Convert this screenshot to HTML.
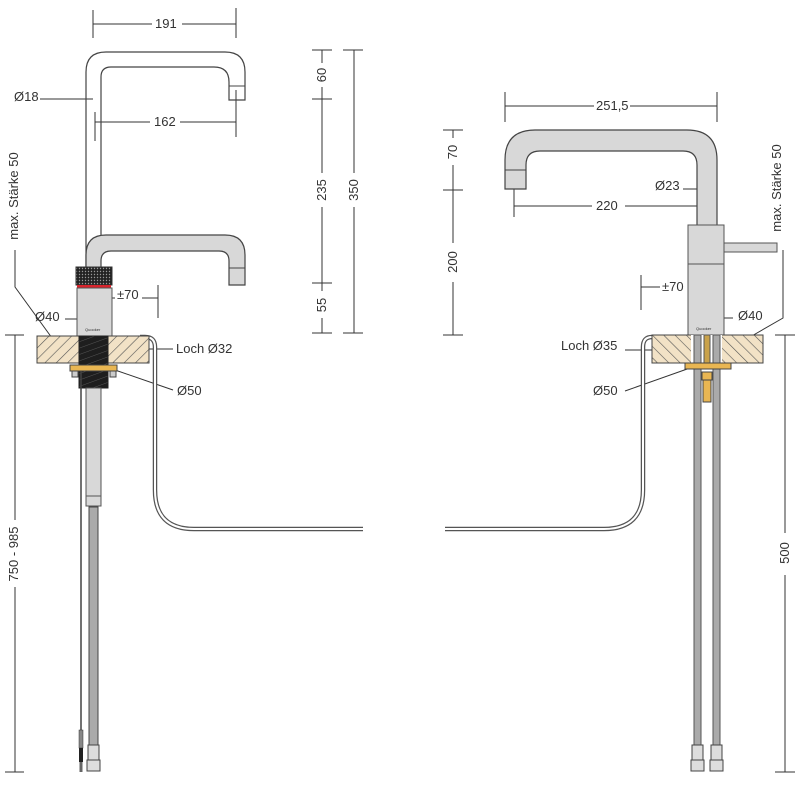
<!DOCTYPE html>
<html><head><meta charset="utf-8"><style>
html,body{margin:0;padding:0;background:#fff;}
svg{display:block;}
text{font-family:"Liberation Sans",sans-serif;font-size:13px;fill:#333;}
</style></head><body>
<svg width="800" height="791" viewBox="0 0 800 791" xmlns="http://www.w3.org/2000/svg">
<defs>
<pattern id="hl" width="8" height="8" patternUnits="userSpaceOnUse" patternTransform="rotate(45)">
<rect width="8" height="8" fill="#f2e2c6"/><line x1="0" y1="0" x2="0" y2="8" stroke="#555" stroke-width="1.2"/></pattern>
<pattern id="hr" width="8" height="8" patternUnits="userSpaceOnUse" patternTransform="rotate(-45)">
<rect width="8" height="8" fill="#f2e2c6"/><line x1="0" y1="0" x2="0" y2="8" stroke="#555" stroke-width="1.2"/></pattern>
<pattern id="knurl" width="3" height="3" patternUnits="userSpaceOnUse">
<rect width="3" height="3" fill="#222"/><circle cx="1.5" cy="1.5" r="0.7" fill="#999"/></pattern>
<pattern id="thr" width="6" height="6" patternUnits="userSpaceOnUse" patternTransform="rotate(-20)">
<rect width="6" height="6" fill="#1e1e1e"/><line x1="0" y1="0" x2="6" y2="0" stroke="#555" stroke-width="1"/></pattern>
</defs>
<g stroke="#333" stroke-width="1" fill="none">
<line x1="93" y1="24" x2="152" y2="24"/><line x1="182" y1="24" x2="236" y2="24"/>
<line x1="93" y1="10" x2="93" y2="38"/><line x1="236" y1="8" x2="236" y2="38"/>
<line x1="40" y1="99" x2="93" y2="99"/>
<line x1="95" y1="122" x2="150" y2="122"/><line x1="180" y1="122" x2="236" y2="122"/>
<line x1="95" y1="112" x2="95" y2="141"/><line x1="236" y1="90" x2="236" y2="137"/>
<line x1="322" y1="50" x2="322" y2="63"/><line x1="322" y1="87" x2="322" y2="173"/><line x1="322" y1="207" x2="322" y2="291"/><line x1="322" y1="318" x2="322" y2="333"/>
<line x1="312" y1="50" x2="332" y2="50"/><line x1="312" y1="99" x2="332" y2="99"/><line x1="312" y1="283" x2="332" y2="283"/><line x1="312" y1="333" x2="332" y2="333"/>
<line x1="354" y1="50" x2="354" y2="173"/><line x1="354" y1="207" x2="354" y2="333"/>
<line x1="343" y1="50" x2="363" y2="50"/><line x1="343" y1="333" x2="363" y2="333"/>
<line x1="93" y1="290" x2="93" y2="318"/><line x1="93" y1="298" x2="115" y2="298"/><line x1="142" y1="298" x2="158" y2="298"/><line x1="158" y1="285" x2="158" y2="318"/>
<line x1="65" y1="319" x2="90" y2="319"/>
<polyline points="15,250 15,287 52,338"/>
<line x1="15" y1="335" x2="15" y2="520"/><line x1="15" y1="587" x2="15" y2="772"/>
<line x1="5" y1="335" x2="24" y2="335"/><line x1="5" y1="772" x2="24" y2="772"/>
<line x1="108" y1="349" x2="173" y2="349"/>
<line x1="115" y1="370" x2="173" y2="390"/>
</g>
<path d="M140,337 L145,337 Q155,337 155,347 L155,490 Q155,529 194,529 L363,529" fill="none" stroke="#555" stroke-width="4.5"/>
<path d="M140,337 L145,337 Q155,337 155,347 L155,490 Q155,529 194,529 L363,529" fill="none" stroke="#fff" stroke-width="2"/>
<path d="M86,268 L86,72 Q86,52 106,52 L225,52 Q245,52 245,72 L245,100 L229,100 L229,82 Q229,67 214,67 L111,67 Q101,67 101,77 L101,251" fill="none" stroke="#444" stroke-width="1.2"/>
<line x1="229" y1="86" x2="245" y2="86" stroke="#444" stroke-width="1"/>
<path d="M86,268 L86,255 Q86,235 106,235 L225,235 Q245,235 245,255 L245,285 L229,285 L229,261 Q229,251 219,251 L111,251 Q101,251 101,261 L101,268 Z" fill="#d8d8d8" stroke="#444" stroke-width="1.2"/>
<line x1="229" y1="268" x2="245" y2="268" stroke="#444"/>
<rect x="76" y="267" width="36" height="18" fill="url(#knurl)" stroke="#333"/>
<rect x="77" y="285" width="34" height="3" fill="#d8242c"/>
<rect x="77" y="288" width="35" height="48" fill="#d8d8d8" stroke="#555"/>
<text x="85" y="331" style="font-size:4px">Quooker</text>
<rect x="37" y="336" width="112" height="27" fill="url(#hl)" stroke="#444"/>
<rect x="79" y="336" width="29" height="52" fill="url(#thr)" stroke="#222"/>
<rect x="70" y="365" width="47" height="6" fill="#e9b652" stroke="#444"/>
<rect x="72" y="371" width="6" height="6" fill="#ccc" stroke="#444"/><rect x="110" y="371" width="6" height="6" fill="#ccc" stroke="#444"/>
<rect x="86" y="388" width="15" height="118" fill="#d8d8d8" stroke="#555"/>
<line x1="86" y1="496" x2="101" y2="496" stroke="#555"/>
<rect x="89" y="507" width="9" height="240" fill="#aaa" stroke="#444"/>
<rect x="88" y="745" width="11" height="15" fill="#ddd" stroke="#444"/>
<rect x="87" y="760" width="13" height="11" fill="#ddd" stroke="#444"/>
<line x1="81" y1="371" x2="81" y2="730" stroke="#444" stroke-width="1.5"/>
<rect x="79" y="730" width="4" height="18" fill="#888" stroke="#333" stroke-width="0.5"/>
<rect x="79" y="748" width="4" height="14" fill="#222"/>
<rect x="79.5" y="762" width="3" height="10" fill="#666"/>
<g stroke="#333" stroke-width="1" fill="none">
<line x1="505" y1="106" x2="594" y2="106"/><line x1="630" y1="106" x2="717" y2="106"/>
<line x1="505" y1="92" x2="505" y2="122"/><line x1="717" y1="92" x2="717" y2="122"/>
<line x1="453" y1="130" x2="453" y2="138"/><line x1="453" y1="165" x2="453" y2="243"/><line x1="453" y1="282" x2="453" y2="335"/>
<line x1="443" y1="130" x2="463" y2="130"/><line x1="443" y1="190" x2="463" y2="190"/><line x1="443" y1="335" x2="463" y2="335"/>
<line x1="683" y1="189" x2="706" y2="189"/>
<line x1="514" y1="206" x2="592" y2="206"/><line x1="625" y1="206" x2="706" y2="206"/>
<line x1="514" y1="182" x2="514" y2="217"/><line x1="706" y1="196" x2="706" y2="217"/>
<line x1="641" y1="275" x2="641" y2="310"/><line x1="641" y1="287" x2="660" y2="287"/><line x1="690" y1="287" x2="706" y2="287"/><line x1="706" y1="275" x2="706" y2="310"/>
<line x1="710" y1="318" x2="733" y2="318"/>
<polyline points="783,250 783,318 750,337"/>
<line x1="785" y1="335" x2="785" y2="533"/><line x1="785" y1="575" x2="785" y2="772"/>
<line x1="775" y1="335" x2="795" y2="335"/><line x1="775" y1="772" x2="795" y2="772"/>
<line x1="625" y1="350" x2="690" y2="350"/>
<line x1="625" y1="391" x2="690" y2="368"/>
</g>
<path d="M656,337 L652,337 Q643,337 643,347 L643,490 Q643,529 604,529 L445,529" fill="none" stroke="#555" stroke-width="4.5"/>
<path d="M656,337 L652,337 Q643,337 643,347 L643,490 Q643,529 604,529 L445,529" fill="none" stroke="#fff" stroke-width="2"/>
<path d="M505,189 L505,160 Q505,130 535,130 L687,130 Q717,130 717,160 L717,226 L697,226 L697,165 Q697,151 683,151 L540,151 Q526,151 526,165 L526,189 Z" fill="#d8d8d8" stroke="#444" stroke-width="1.2"/>
<line x1="505" y1="170" x2="526" y2="170" stroke="#444"/>
<rect x="688" y="225" width="36" height="110" fill="#d8d8d8" stroke="#555"/>
<line x1="688" y1="264" x2="724" y2="264" stroke="#555"/>
<rect x="724" y="243" width="53" height="9" fill="#d8d8d8" stroke="#555"/>
<text x="696" y="330" style="font-size:4px">Quooker</text>
<rect x="652" y="335" width="111" height="28" fill="url(#hr)" stroke="#444"/>
<rect x="691" y="335" width="31" height="28" fill="#fff"/>
<rect x="694" y="335" width="7" height="410" fill="#aaa" stroke="#555"/>
<rect x="713" y="335" width="7" height="410" fill="#aaa" stroke="#555"/>
<rect x="704" y="335" width="6" height="28" fill="#c9a24a" stroke="#555"/>
<rect x="685" y="363" width="46" height="6" fill="#e9b652" stroke="#444"/>
<rect x="702" y="372" width="10" height="8" fill="#e9b652" stroke="#444"/>
<rect x="703" y="380" width="8" height="22" fill="#e9b652" stroke="#444"/>
<rect x="692" y="745" width="11" height="15" fill="#ddd" stroke="#444"/><rect x="691" y="760" width="13" height="11" fill="#ddd" stroke="#444"/>
<rect x="711" y="745" width="11" height="15" fill="#ddd" stroke="#444"/><rect x="710" y="760" width="13" height="11" fill="#ddd" stroke="#444"/>
<text x="155" y="28">191</text>
<text x="14" y="101">Ø18</text>
<text x="154" y="126">162</text>
<text x="117" y="299">±70</text>
<text x="35" y="321">Ø40</text>
<text x="176" y="353">Loch Ø32</text>
<text x="177" y="395">Ø50</text>
<text transform="translate(326,75) rotate(-90)" text-anchor="middle">60</text>
<text transform="translate(326,190) rotate(-90)" text-anchor="middle">235</text>
<text transform="translate(326,305) rotate(-90)" text-anchor="middle">55</text>
<text transform="translate(358,190) rotate(-90)" text-anchor="middle">350</text>
<text transform="translate(18,196) rotate(-90)" text-anchor="middle">max. Stärke 50</text>
<text transform="translate(18,554) rotate(-90)" text-anchor="middle">750 - 985</text>
<text x="596" y="110">251,5</text>
<text transform="translate(457,152) rotate(-90)" text-anchor="middle">70</text>
<text transform="translate(457,262) rotate(-90)" text-anchor="middle">200</text>
<text x="655" y="190">Ø23</text>
<text x="596" y="210">220</text>
<text x="662" y="291">±70</text>
<text x="738" y="320">Ø40</text>
<text x="561" y="350">Loch Ø35</text>
<text x="593" y="395">Ø50</text>
<text transform="translate(781,188) rotate(-90)" text-anchor="middle">max. Stärke 50</text>
<text transform="translate(789,553) rotate(-90)" text-anchor="middle">500</text>
</svg>
</body></html>
